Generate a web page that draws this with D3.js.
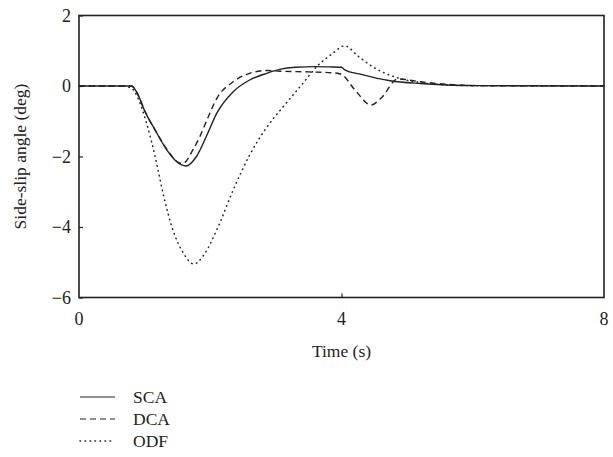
<!DOCTYPE html>
<html>
<head>
<meta charset="utf-8">
<script src="https://cdn.jsdelivr.net/npm/d3@7"></script>
<style>
  body { margin: 0; background: #fff; }
  text { font-family: "Liberation Serif", "DejaVu Serif", serif; fill: #222; }
</style>
</head>
<body>
<script>
const width = 613;
const height = 457;
const margin = {left: 79, right: 9, top: 15.5, bottom: 159.5};

// time (s) and side-slip angle (deg)
const scaT = [0, 0.7, 0.8, 0.9, 1.0, 1.16, 1.34, 1.49, 1.63, 1.79, 1.95, 2.1, 2.35, 2.6, 2.86, 3.06, 3.3, 3.6, 3.85, 4.0, 4.05, 4.3, 4.74, 5.2, 5.6, 6.1, 8];
const scaV = [0, 0, 0, -0.25, -0.7, -1.25, -1.82, -2.15, -2.27, -2.0, -1.39, -0.77, -0.16, 0.17, 0.36, 0.47, 0.53, 0.55, 0.54, 0.53, 0.46, 0.33, 0.15, 0.07, 0.03, 0.01, 0];

const dcaT = [0, 0.7, 0.8, 0.9, 1.0, 1.16, 1.34, 1.5, 1.58, 1.74, 1.84, 1.95, 2.1, 2.35, 2.6, 2.86, 3.06, 3.5, 3.9, 4.0, 4.2, 4.45, 4.6, 4.86, 5.2, 5.6, 6.1, 8];
const dcaV = [0, 0, 0, -0.25, -0.7, -1.25, -1.8, -2.15, -2.2, -1.8, -1.44, -0.96, -0.35, 0.12, 0.36, 0.44, 0.42, 0.4, 0.37, 0.33, -0.1, -0.54, -0.35, 0.2, 0.12, 0.05, 0.01, 0];

const odfT = [0, 0.65, 0.79, 0.9, 1.03, 1.16, 1.28, 1.43, 1.59, 1.75, 1.9, 2.1, 2.35, 2.6, 2.85, 3.11, 3.4, 3.65, 3.85, 4.05, 4.25, 4.48, 4.86, 5.2, 5.6, 6.0, 8];
const odfV = [0, 0, -0.05, -0.35, -1.06, -2.0, -3.04, -4.08, -4.74, -5.05, -4.8, -4.08, -2.95, -1.96, -1.2, -0.59, 0.05, 0.6, 0.9, 1.14, 0.85, 0.54, 0.23, 0.1, 0.03, 0.01, 0];

const xTicks = [0, 4, 8];
const yTicks = [2, 0, -2, -4, -6];
const names = ["SCA", "DCA", "ODF"];
const dashes = [null, "6,4", "0.6,4.4"];

const svg = d3.select("body")
    .append("svg")
    .attr("width", width)
    .attr("height", height);

const x = d3.scaleLinear().domain([0, 8]).range([margin.left, width - margin.right]);
const y = d3.scaleLinear().domain([-6, 2]).range([height - margin.bottom, margin.top]);

const line = d3.line()
    .x(d => x(d[0]))
    .y(d => y(d[1]))
    .curve(d3.curveMonotoneX);

const series = [
    d3.zip(scaT, scaV),
    d3.zip(dcaT, dcaV),
    d3.zip(odfT, odfV)
];

series.forEach((s, i) => {
    svg.append("path")
        .datum(s)
        .attr("d", line)
        .attr("fill", "none")
        .attr("stroke", "#222")
        .attr("stroke-width", i == 2 ? 1.5 : 1.4)
        .attr("stroke-linecap", i == 2 ? "round" : "butt")
        .attr("stroke-dasharray", dashes[i]);
});

// frame
svg.append("rect")
    .attr("x", x(0))
    .attr("y", y(2))
    .attr("width", x(8) - x(0))
    .attr("height", y(-6) - y(2))
    .attr("fill", "none")
    .attr("stroke", "#222")
    .attr("stroke-width", 1.6);

// inward ticks
svg.append("g")
    .attr("transform", `translate(${x(0)},0)`)
    .call(d3.axisRight(y).tickValues(yTicks).tickSize(4).tickFormat(""))
    .call(g => g.select(".domain").remove())
    .call(g => g.selectAll("line").attr("stroke", "#222").attr("stroke-width", 1.2));

svg.append("g")
    .attr("transform", `translate(0,${y(-6)})`)
    .call(d3.axisTop(x).tickValues([4]).tickSize(4).tickFormat(""))
    .call(g => g.select(".domain").remove())
    .call(g => g.selectAll("line").attr("stroke", "#222").attr("stroke-width", 1.2));

// tick labels
svg.selectAll(".ylab")
    .data(yTicks)
    .enter()
    .append("text")
    .attr("x", x(0) - 8)
    .attr("y", d => y(d))
    .attr("dy", "0.35em")
    .attr("text-anchor", "end")
    .attr("font-size", 18)
    .text(d => d < 0 ? "\u2212" + Math.abs(d) : d);

svg.selectAll(".xlab")
    .data(xTicks)
    .enter()
    .append("text")
    .attr("x", d => x(d))
    .attr("y", y(-6) + 27)
    .attr("text-anchor", "middle")
    .attr("font-size", 18)
    .text(d => d);

svg.append("text")
    .attr("x", x(4))
    .attr("y", y(-6) + 59)
    .attr("text-anchor", "middle")
    .attr("font-size", 17.5)
    .text("Time (s)");

svg.append("text")
    .attr("transform", `translate(26,${(y(2) + y(-6)) / 2}) rotate(-90)`)
    .attr("text-anchor", "middle")
    .attr("font-size", 17.5)
    .text("Side-slip angle (deg)");

// legend
const legend = svg.append("g");
names.forEach((n, i) => {
    const ly = 397 + i * 22;
    legend.append("line")
        .attr("x1", 80).attr("x2", 115)
        .attr("y1", ly).attr("y2", ly)
        .attr("stroke", "#222")
        .attr("stroke-width", i == 2 ? 1.5 : 1.2)
        .attr("stroke-linecap", i == 2 ? "round" : "butt")
        .attr("stroke-dasharray", i == 1 ? "6,4" : dashes[i]);
    legend.append("text")
        .attr("x", 133)
        .attr("y", ly)
        .attr("dy", "0.35em")
        .attr("font-size", 17.5)
        .text(n);
});
</script>
</body>
</html>
